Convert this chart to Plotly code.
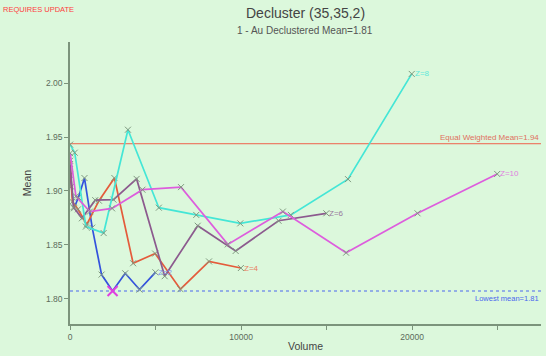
import plotly.graph_objects as go

# ---- data ----
volumes_z2 = [2, 69, 232, 492, 847, 1298, 1845, 2488, 3228, 4063, 4994]
mean_z2 = [1.915, 1.904, 1.884, 1.894, 1.912, 1.866, 1.8225, 1.8073, 1.8237, 1.8086, 1.8246]

volumes_z4 = [4, 138, 465, 983, 1693, 2596, 3690, 4977, 6455, 8125, 9988]
mean_z4 = [1.928, 1.890, 1.883, 1.869, 1.891, 1.912, 1.833, 1.842, 1.809, 1.8347, 1.8286]

volumes_z6 = [6, 207, 697, 1475, 2540, 3894, 5535, 7465, 9683, 12188, 14982]
mean_z6 = [1.925, 1.885, 1.8747, 1.8915, 1.892, 1.9112, 1.821, 1.8678, 1.8444, 1.8724, 1.8793]

volumes_z8 = [8, 276, 929, 1966, 3387, 5192, 7380, 9953, 12910, 16250, 19975]
mean_z8 = [1.943, 1.9355, 1.867, 1.861, 1.9568, 1.8845, 1.8778, 1.870, 1.8778, 1.911, 2.0085]

volumes_z10 = [10, 346, 1162, 2458, 4234, 6490, 9226, 12442, 16138, 20314, 24970]
mean_z10 = [1.935, 1.895, 1.8809, 1.8839, 1.9012, 1.9036, 1.8505, 1.8809, 1.8428, 1.8793, 1.9158]

series_names = ["Z=2", "Z=4", "Z=6", "Z=8", "Z=10"]
series_colors = ["#3352dd", "#e45b3b", "#8c5a8e", "#44e6d6", "#dd5ddd"]
series_label_colors = ["#7f95ee", "#ea7d60", "#9a7a9c", "#60e8da", "#e07fe0"]

equal_weighted_mean = 1.9438
equal_weighted_label = "Equal Weighted Mean=1.94"
lowest_label = "Lowest mean=1.81"

x_tick_vals = [0, 5000, 10000, 15000, 20000, 25000]
x_tick_text = ["0", "", "10000", "", "20000", ""]
y_tick_vals = [1.80, 1.85, 1.90, 1.95, 2.00]
y_tick_text = ["1.80", "1.85", "1.90", "1.95", "2.00"]

title_text = "Decluster (35,35,2)"
subtitle_text = "1 - Au Declustered Mean=1.81"
warning_text = "REQUIRES UPDATE"

# ---- figure ----
BG = "#dcf8dc"
AXIS = "#7c947c"
TICKTXT = "#5b6b5b"
FONT = "Liberation Sans"

all_x = [volumes_z2, volumes_z4, volumes_z6, volumes_z8, volumes_z10]
all_y = [mean_z2, mean_z4, mean_z6, mean_z8, mean_z10]

fig = go.Figure()
for name, xs, ys, col in zip(series_names, all_x, all_y, series_colors):
    fig.add_trace(go.Scatter(
        x=xs, y=ys, mode="lines+markers", name=name,
        line=dict(color=col, width=1.7),
        marker=dict(symbol="x-thin", size=6, line=dict(width=1, color="#7f997f")),
        showlegend=False,
    ))

# lowest mean overall
low_val = None
low_x = None
for xs, ys in zip(all_x, all_y):
    for xv, yv in zip(xs, ys):
        if low_val is None or yv < low_val:
            low_val, low_x = yv, xv

fig.add_trace(go.Scatter(
    x=[low_x], y=[low_val], mode="markers",
    marker=dict(symbol="x-thin", size=10, line=dict(width=2, color="#e040e0")),
    showlegend=False,
))

shapes = [
    dict(type="line", xref="paper", x0=0, x1=1, yref="y", y0=equal_weighted_mean, y1=equal_weighted_mean,
         line=dict(color="#f0604c", width=1), layer="below"),
    dict(type="line", xref="paper", x0=0, x1=1, yref="y", y0=low_val, y1=low_val,
         line=dict(color="#4a66ee", width=1.2, dash="dot"), layer="below"),
]

W, H = 546, 356
ml, mr, mt, mb = 70, 5, 42, 27
pw, ph = W - ml - mr, H - mt - mb

def px_to_paper_x(px):
    return (px - ml) / pw

def py_to_paper_y(py):
    return (H - mb - py) / ph

annotations = []
for name, xs, ys, lc in zip(series_names, all_x, all_y, series_label_colors):
    annotations.append(dict(x=xs[-1], y=ys[-1], xref="x", yref="y", text=name, showarrow=False,
                            xanchor="left", yanchor="middle", xshift=1,
                            font=dict(family=FONT, size=8, color=lc)))

annotations += [
    dict(x=1, y=equal_weighted_mean, xref="paper", yref="y", text=equal_weighted_label, showarrow=False,
         xanchor="right", yanchor="bottom", font=dict(family=FONT, size=8, color="#e07060")),
    dict(x=1, y=low_val, xref="paper", yref="y", text=lowest_label, showarrow=False,
         xanchor="right", yanchor="top", yshift=-1, font=dict(family=FONT, size=7.5, color="#4a66ee")),
    dict(x=px_to_paper_x(305), y=py_to_paper_y(12), xref="paper", yref="paper", text=title_text,
         showarrow=False, xanchor="center", yanchor="middle",
         font=dict(family=FONT, size=14, color="#444444")),
    dict(x=px_to_paper_x(305), y=py_to_paper_y(30), xref="paper", yref="paper", text=subtitle_text,
         showarrow=False, xanchor="center", yanchor="middle",
         font=dict(family=FONT, size=10, color="#555555")),
    dict(x=px_to_paper_x(1), y=py_to_paper_y(2), xref="paper", yref="paper", text=warning_text,
         showarrow=False, xanchor="left", yanchor="top",
         font=dict(family=FONT, size=7.5, color="#ff4040")),
]

fig.update_layout(
    width=W, height=H, autosize=False,
    margin=dict(l=ml, r=mr, t=mt, b=mb, pad=0),
    paper_bgcolor=BG, plot_bgcolor=BG,
    shapes=shapes, annotations=annotations,
    font=dict(family=FONT, size=9, color=TICKTXT),
    xaxis=dict(range=[0, 27530], tickmode="array", tickvals=x_tick_vals, ticktext=x_tick_text,
               showgrid=False, zeroline=False, showline=True, linecolor=AXIS, linewidth=1.5,
               ticks="outside", ticklen=4, tickcolor=AXIS, tickwidth=1,
               tickfont=dict(family=FONT, size=8.5, color=TICKTXT),
               title=dict(text="Volume", font=dict(family=FONT, size=10.5, color="#444444"), standoff=2)),
    yaxis=dict(range=[1.7767, 2.0381], tickmode="array", tickvals=y_tick_vals, ticktext=y_tick_text,
               showgrid=False, zeroline=False, showline=True, linecolor=AXIS, linewidth=1.5,
               ticks="outside", ticklen=4, tickcolor=AXIS, tickwidth=1,
               tickfont=dict(family=FONT, size=8.5, color=TICKTXT),
               title=dict(text="Mean", font=dict(family=FONT, size=10.5, color="#444444"), standoff=12)),
)

fig.write_html("out.html", config={"displayModeBar": False},
               post_script="document.body.style.margin='0';document.body.style.background='%s';" % BG)
